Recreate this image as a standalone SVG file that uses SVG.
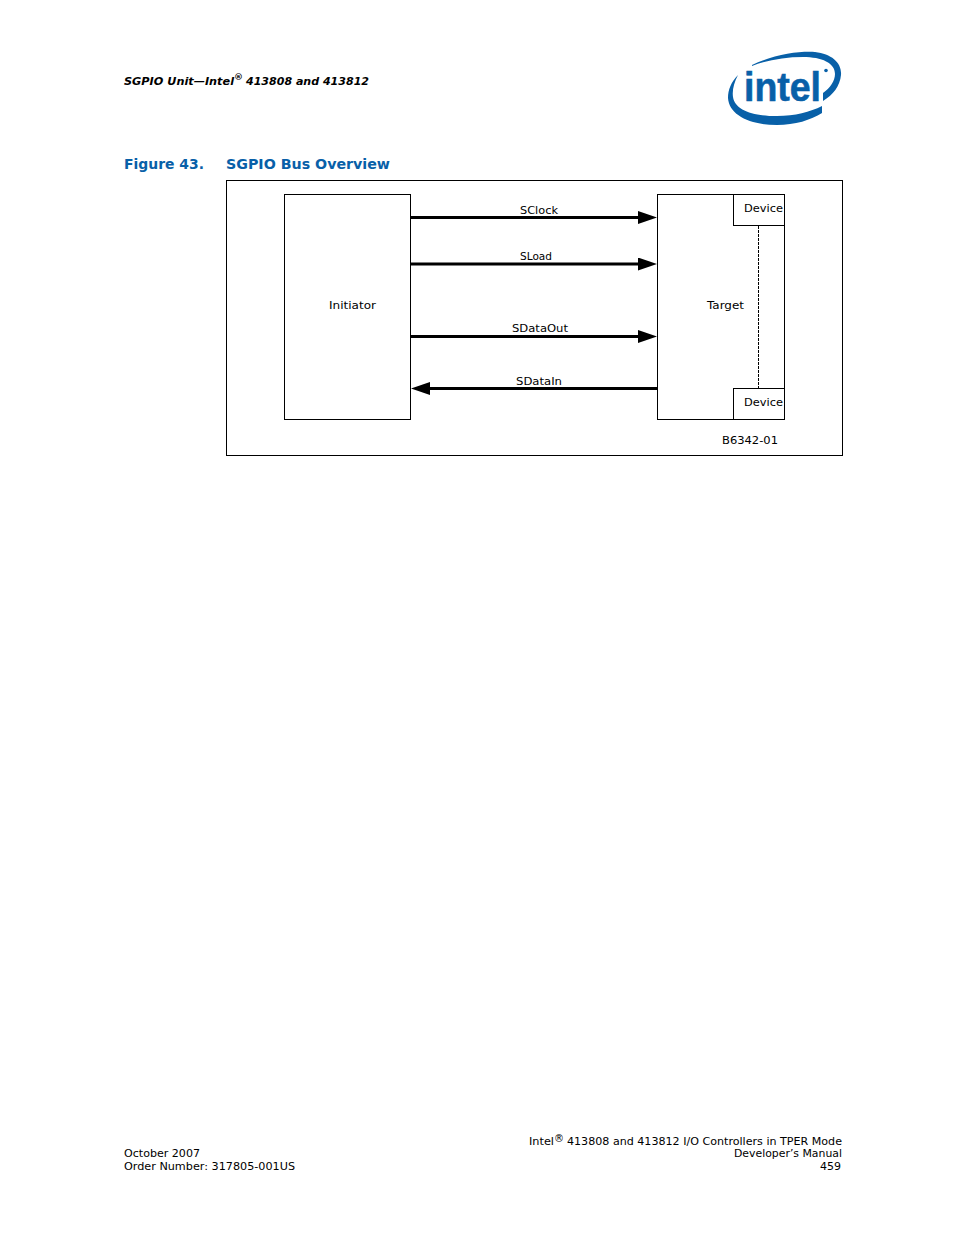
<svg xmlns="http://www.w3.org/2000/svg" width="954" height="1235" viewBox="0 0 954 1235">
<defs>
<marker id="ah" markerUnits="userSpaceOnUse" markerWidth="20" markerHeight="13" refX="1" refY="6.500" orient="auto"><path d="M0 0L19 6.500L0 13Z" fill="#000"/></marker>
</defs>
<style>
text{font-family:"DejaVu Sans",Verdana,sans-serif;font-size:11px;fill:#000}
.hd{font-style:italic;font-weight:bold;font-size:11px}
.cap{font-weight:bold;font-size:13.5px;fill:#0860a8}
.box{fill:#fff;stroke:#000;stroke-width:1}
.w{stroke:#000;stroke-width:3;fill:none;marker-end:url(#ah)}
.logo{fill:#0860a8}
</style>
<rect width="954" height="1235" fill="#fff"/>
<g id="header">
<text class="hd" x="124" y="85" textLength="110" lengthAdjust="spacingAndGlyphs">SGPIO Unit—Intel</text>
<text class="hd" x="234" y="80" style="font-size:9px">®</text>
<text class="hd" x="246" y="85" textLength="123" lengthAdjust="spacingAndGlyphs">413808 and 413812</text>
</g>
<g id="logo">
<path class="logo" d="M752 65C775 54 800 51 815 52C832 54 842 63 841 75C840 86 833 95 823 101L823 93C830 88 835 81 835 74C835 63 822 57 803 57C785 57 767 60 752 66Z"/>
<path class="logo" d="M738 75C731 82 728 90 728 98C729 115 750 125 777 125C795 125 811 120 822 113L822 106C810 112 795 116 777 116C752 116 735 110 733 97C732 90 734 83 738 75Z"/>
<text id="logo-word" x="744" y="100.500" style="font-family:'Liberation Sans',Arial,sans-serif;font-size:40px;font-weight:bold;fill:#0860a8;stroke:#0860a8;stroke-width:0.6" textLength="77" lengthAdjust="spacingAndGlyphs">intel</text>
<circle class="logo" cx="826" cy="70.500" r="1.800"/>
</g>
<text id="fig-num" class="cap" x="124" y="169" textLength="80" lengthAdjust="spacingAndGlyphs">Figure 43.</text>
<text id="fig-title" class="cap" x="226" y="169" textLength="164" lengthAdjust="spacingAndGlyphs">SGPIO Bus Overview</text>
<g id="frame"><rect x="226.500" y="180.500" width="616" height="275" fill="#fff" stroke="#000"/></g>
<g id="initiator"><rect class="box" x="284.500" y="194.500" width="126" height="225"/>
<text x="329" y="309" textLength="47" lengthAdjust="spacingAndGlyphs">Initiator</text></g>
<g id="target"><rect class="box" x="657.500" y="194.500" width="127" height="225"/>
<text x="707" y="309" textLength="37" lengthAdjust="spacingAndGlyphs">Target</text></g>
<g id="device-top"><rect class="box" x="733.500" y="194.500" width="51" height="31"/>
<text x="744" y="212" textLength="39" lengthAdjust="spacingAndGlyphs">Device</text></g>
<g id="device-bottom"><rect class="box" x="733.500" y="388.500" width="51" height="31"/>
<text x="744" y="406" textLength="39" lengthAdjust="spacingAndGlyphs">Device</text></g>
<g id="connectors">
<line class="w" x1="410" y1="217.500" x2="639" y2="217.500"/>
<line class="w" x1="410" y1="264" x2="639" y2="264"/>
<line class="w" x1="410" y1="336.500" x2="639" y2="336.500"/>
<line class="w" x1="658" y1="388.500" x2="429" y2="388.500"/>
<line x1="758.500" y1="226" x2="758.500" y2="388" stroke="#000" stroke-width="1" stroke-dasharray="3 1"/>
</g>
<g id="labels">
<text x="520" y="214" textLength="38" lengthAdjust="spacingAndGlyphs">SClock</text>
<text x="520" y="260" textLength="32" lengthAdjust="spacingAndGlyphs">SLoad</text>
<text x="512" y="332" textLength="56" lengthAdjust="spacingAndGlyphs">SDataOut</text>
<text x="516" y="385" textLength="46" lengthAdjust="spacingAndGlyphs">SDataIn</text>
<text x="722" y="444" textLength="56" lengthAdjust="spacingAndGlyphs">B6342-01</text>
</g>
<g id="footer">
<text x="124" y="1157" textLength="76" lengthAdjust="spacingAndGlyphs">October 2007</text>
<text x="124" y="1170" textLength="171" lengthAdjust="spacingAndGlyphs">Order Number: 317805-001US</text>
<text x="529" y="1145" textLength="25" lengthAdjust="spacingAndGlyphs">Intel</text>
<text x="554" y="1142" style="font-size:10px">®</text>
<text x="567" y="1145" textLength="275" lengthAdjust="spacingAndGlyphs">413808 and 413812 I/O Controllers in TPER Mode</text>
<text x="734" y="1157" textLength="108" lengthAdjust="spacingAndGlyphs">Developer’s Manual</text>
<text x="820" y="1170" textLength="21" lengthAdjust="spacingAndGlyphs">459</text>
</g>
</svg>
